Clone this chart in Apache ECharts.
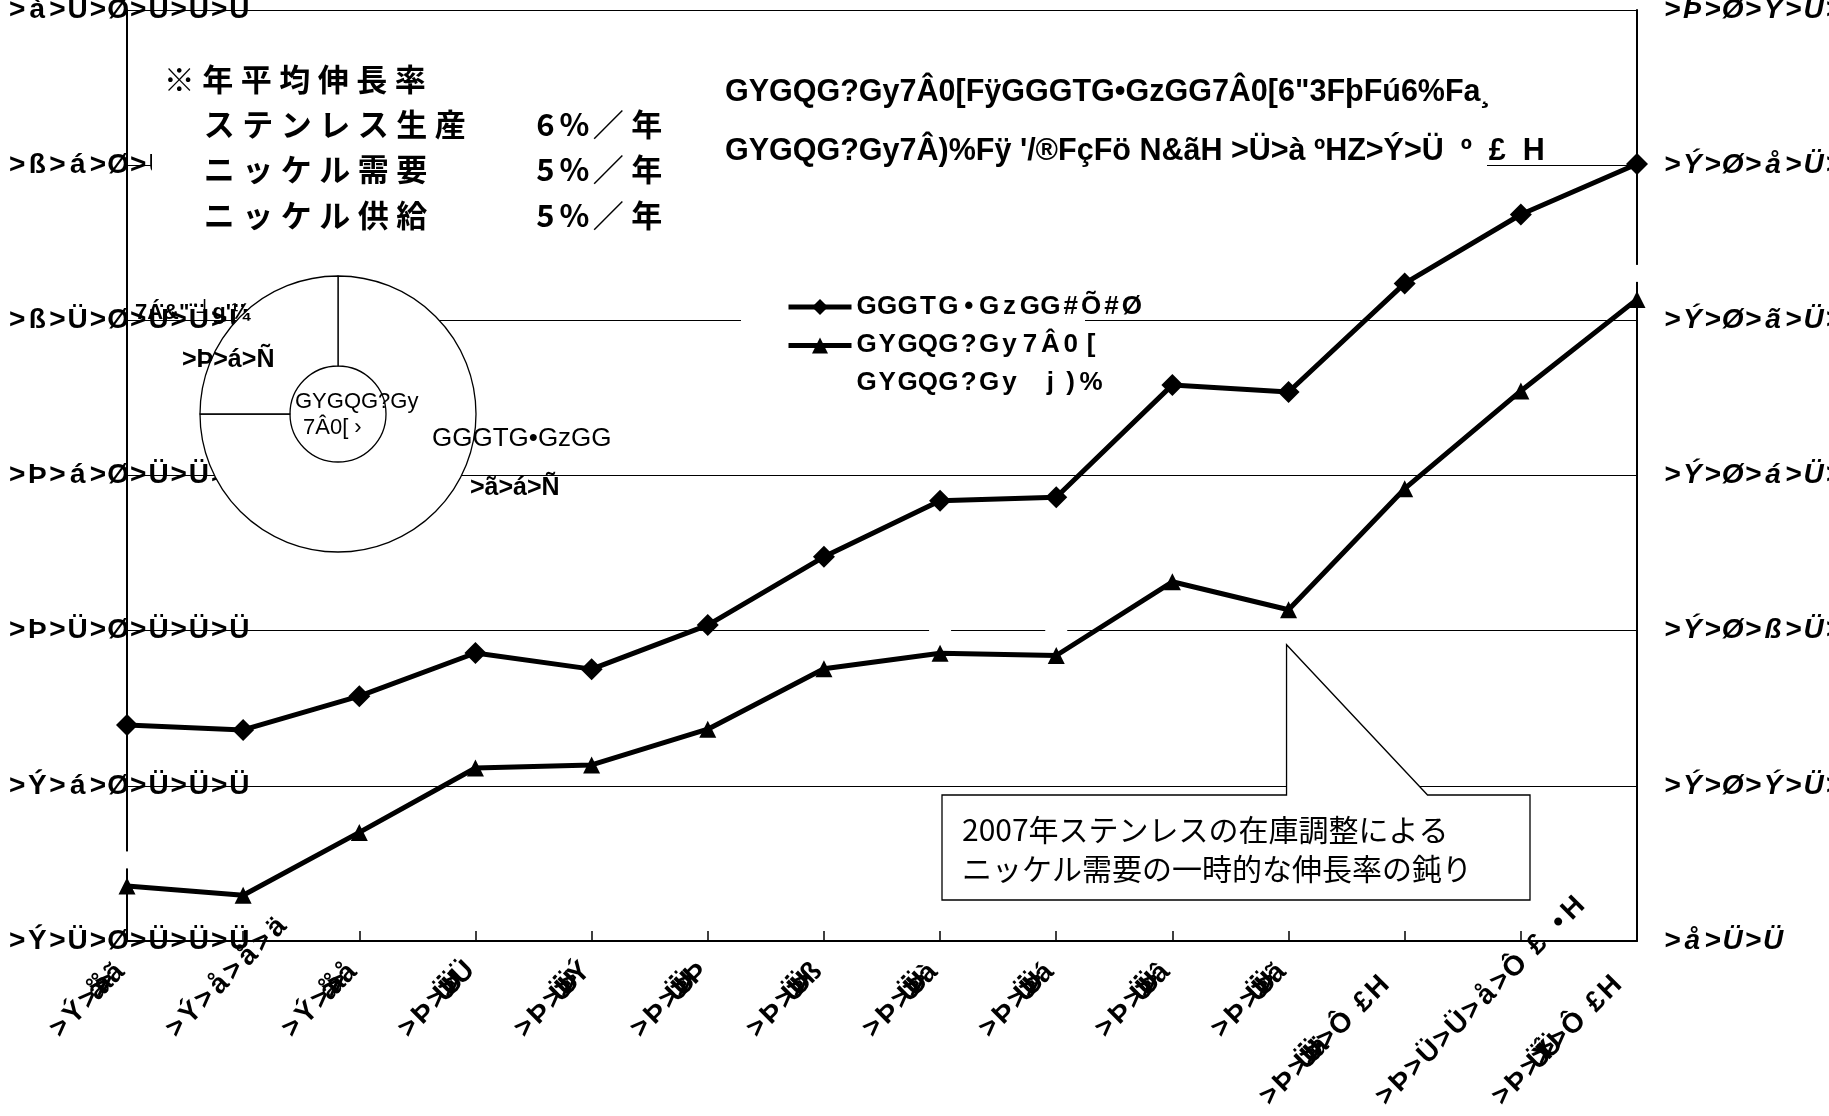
<!DOCTYPE html>
<html>
<head>
<meta charset="utf-8">
<script src="https://cdn.jsdelivr.net/npm/echarts@6/dist/echarts.min.js"></script>
<style>
  html, body { margin: 0; padding: 0; background: #fff; }
  #chart { width: 1829px; height: 1116px; }
</style>
</head>
<body>
<div id="chart"></div>
<script>
// ---- data ----
const categories = [
  '>Ý>å>å>ã', '>Ý>å>å>ä', '>Ý>å>å>å', '>Þ>Ü>Ü>Ü', '>Þ>Ü>Ü>Ý', '>Þ>Ü>Ü>Þ', '>Þ>Ü>Ü>ß',
  '>Þ>Ü>Ü>à', '>Þ>Ü>Ü>á', '>Þ>Ü>Ü>â', '>Þ>Ü>Ü>ã', '>Þ>Ü>Ü>ä>Ô £H', '>Þ>Ü>Ü>å>Ô £ •H', '>Þ>Ü>Ý>Ü>Ô £H'
];
// stainless output (left axis)
const stainlessOutput = [16960, 16800, 17890, 19280, 18760, 20180, 22380, 24190, 24300, 27920, 27690, 31190, 33410, 35040];
// nickel demand (right axis)
const nickelDemand = [971, 959, 1040, 1123, 1127, 1173, 1251, 1271, 1268, 1363, 1327, 1483, 1609, 1727];
const seriesNames = ['GGGTG•GzGG#Õ#Ø', 'GYGQG?Gy7Â0[\nGYGQG?Gy j)%'];
const leftAxisRange = [10000, 40000, 5000];
const rightAxisRange = [900, 2100, 200];

// demand share donut
const shareNames = ['GGGTG•GzGG', '7Á&"¨┘g\'¼'];
const shareValues = [75, 25];
const shareCentre = ['GYGQG?Gy', '7Â0[ ›'];

// growth-rate note
const growthTitle = '※年平均伸長率';
const growthItems = ['ステンレス生産', 'ニッケル需要', 'ニッケル供給'];
const growthRates = [6, 5, 5];

const headNotes = [
  'GYGQG?Gy7Â0[FÿGGGTG•GzGG7Â0[6"3FþFú6%Fa¸',
  'GYGQG?Gy7Â)%Fÿ \'/®FçFö N&ãH >Ü>à ºHZ>Ý>Ü  º  £  H'
];
const calloutLines = ['2007年ステンレスの在庫調整による', 'ニッケル需要の一時的な伸長率の鈍り'];
const calloutIndex = 10;

// ---- helpers ----
const LATIN = "'Liberation Sans', 'DejaVu Sans', sans-serif";
const CJK = "'Noto Sans CJK JP', sans-serif";

// digit glyphs as they come out of the source file's encoding
const glyphMap = { '0': 'Ü', '1': 'Ý', '2': 'Þ', '3': 'ß', '4': 'à', '5': 'á', '6': 'â', '7': 'ã', '8': 'ä', '9': 'å', ',': 'Ø', '%': 'Ñ' };
function garble(s) { return Array.from(s).map(ch => '>' + (glyphMap[ch] || ch)).join(''); }
function fmtNum(v) { return Math.round(v).toLocaleString('en-US'); }

// one rich token per character, so each glyph sits in a fixed cell
function cells(text, styleOf) {
  return Array.from(text).map((ch, i) => '{' + styleOf(ch, i) + '|' + ch + '}').join('');
}

const CELL = 20.2;
const TICK_FS = 28;
const tickCell = { fontFamily: LATIN, fontWeight: 'bold', fontSize: TICK_FS, color: '#000', width: CELL, align: 'center' };

// x tick labels: some glyph runs collapse onto each other
const squeezeRanges = [[3, 7], null, [3, 7], [3, 7], [3, 7], [3, 7], [3, 7], [3, 7], [3, 7], [3, 7], [3, 7], [3, 8], null, [3, 8]];
const xRich = {
  c: tickCell,
  q: Object.assign({}, tickCell, { width: 4 }),
  s: Object.assign({}, tickCell, { width: 11 })
};
function xStyle(idx) {
  const sq = squeezeRanges[idx];
  return (ch, i) => (sq && i >= sq[0] && i < sq[1]) ? 'q' : (ch === ' ' ? 's' : 'c');
}
categories.forEach((lab, idx) => {
  const st = xStyle(idx);
  let w = 0;
  Array.from(lab).forEach((ch, i) => { const k = st(ch, i); w += k === 'q' ? 4 : k === 's' ? 11 : CELL; });
  const span = idx >= 11 ? 400 : 208;
  xRich['p' + idx] = { fontSize: TICK_FS, width: Math.max(0, span - w) };
});

const legendCell = { fontFamily: LATIN, fontWeight: 'bold', fontSize: 26, color: '#000', width: 20.4, align: 'center' };

const chart = echarts.init(document.getElementById('chart'));

const option = {
  animation: false,
  backgroundColor: '#fff',
  grid: { left: 127, right: 192, top: 10, bottom: 175, outerBoundsMode: 'none', containLabel: false },
  legend: [
    {
      data: [seriesNames[0]], orient: 'vertical', left: 786, top: 294, padding: 0,
      itemWidth: 63, itemHeight: 20, selectedMode: false, lineStyle: { width: 5 },
      formatter: n => cells(n, () => 'a'),
      textStyle: { rich: { a: Object.assign({}, legendCell, { lineHeight: 26 }) } }
    },
    {
      data: [seriesNames[1]], orient: 'vertical', left: 786, top: 332, padding: 0,
      itemWidth: 63, itemHeight: 20, selectedMode: false, lineStyle: { width: 5 },
      formatter: n => n.split('\n').map((line, li) => cells(line, () => li === 0 ? 'b1' : 'b2')).join('\n'),
      textStyle: {
        rich: {
          b1: Object.assign({}, legendCell, { lineHeight: 74 }),
          b2: Object.assign({}, legendCell, { lineHeight: 1 })
        }
      }
    }
  ],
  xAxis: {
    type: 'category', data: categories, boundaryGap: false,
    axisLine: { lineStyle: { color: '#000', width: 2 } },
    axisTick: { show: true, inside: true, length: 10, lineStyle: { color: '#000', width: 1.5 } },
    axisLabel: {
      interval: 0, rotate: 45, align: 'center', verticalAlign: 'middle', margin: 20,
      formatter: (v, idx) => cells(v, xStyle(idx)) + '{p' + idx + '| }',
      rich: xRich
    },
    splitLine: { show: false }
  },
  yAxis: [
    {
      type: 'value', position: 'left',
      min: leftAxisRange[0], max: leftAxisRange[1], interval: leftAxisRange[2],
      axisLine: { show: true, lineStyle: { color: '#000', width: 2 } },
      axisTick: { show: false },
      splitLine: { show: true, lineStyle: { color: '#000', width: 1.2 } },
      axisLabel: {
        align: 'left', margin: 120,
        formatter: v => cells(garble(fmtNum(v)), () => 'c'),
        rich: { c: tickCell }
      }
    },
    {
      type: 'value', position: 'right',
      min: rightAxisRange[0], max: rightAxisRange[1], interval: rightAxisRange[2],
      axisLine: { show: true, lineStyle: { color: '#000', width: 2 } },
      axisTick: { show: false },
      splitLine: { show: false },
      axisLabel: {
        align: 'left', margin: 25,
        formatter: v => cells(garble(fmtNum(v)), () => 'c'),
        rich: { c: Object.assign({}, tickCell, { fontStyle: 'italic' }) }
      }
    }
  ],
  series: [
    {
      type: 'line', name: seriesNames[0], data: stainlessOutput, yAxisIndex: 0,
      symbol: 'diamond', symbolSize: 22,
      lineStyle: { color: '#000', width: 5 }, itemStyle: { color: '#000' }
    },
    {
      type: 'line', name: seriesNames[1], data: nickelDemand, yAxisIndex: 1,
      symbol: 'triangle', symbolSize: 17,
      lineStyle: { color: '#000', width: 5 }, itemStyle: { color: '#000' },
      label: {
        show: true, position: 'top', distance: 9, formatter: ' ',
        backgroundColor: '#fff', width: 22, height: 17, padding: 0
      }
    },
    {
      type: 'pie', center: [338, 414], radius: [48, 138], startAngle: 90, clockwise: true,
      silent: true, label: { show: false }, labelLine: { show: false },
      itemStyle: { color: '#fff', borderColor: '#000', borderWidth: 1.3 },
      data: shareNames.map((n, i) => ({ name: n, value: shareValues[i] })),
      z: 2
    }
  ]
};
chart.setOption(option);

// ---- annotations ----
const tip = chart.convertToPixel({ seriesIndex: 1 }, [calloutIndex, nickelDemand[calloutIndex]]);
const g = [];
function txt(x, y, text, style, z) {
  g.push({ type: 'text', x: x, y: y, z: z || 6, silent: true,
    style: Object.assign({ text: text, fill: '#000', align: 'left', verticalAlign: 'middle' }, style) });
}

// white backdrops of the note panels and legend
g.push({ type: 'rect', z: 3, silent: true, shape: { x: 152, y: 40, width: 568, height: 200 }, style: { fill: '#fff' } });
g.push({ type: 'rect', z: 3, silent: true, shape: { x: 720, y: 55, width: 767, height: 135 }, style: { fill: '#fff' } });
g.push({ type: 'rect', z: 3, silent: true, shape: { x: 741, y: 282, width: 344, height: 116 }, style: { fill: '#fff' } });

// growth-rate note
const jpRich = {
  j: { fontFamily: CJK, fontWeight: 'bold', fontSize: 31, width: 38.5, align: 'center', fill: '#000' },
  h: { fontFamily: CJK, fontWeight: 'bold', fontSize: 31, width: 29, align: 'center', fill: '#000' }
};
const jpStyle = ch => (ch.charCodeAt(0) < 128 ? 'h' : 'j');
txt(160, 79, cells(growthTitle, jpStyle), { rich: jpRich });
growthItems.forEach((item, i) => {
  const y = 124 + i * 45.5;
  txt(200, y, cells(item, jpStyle), { rich: jpRich });
  txt(531, y, cells(growthRates[i] + '%／年', jpStyle), { rich: jpRich });
});

// heading notes
headNotes.forEach((t, i) => txt(725, 93 + i * 59, t, { fontFamily: LATIN, fontWeight: 'bold', fontSize: 30.5 }));

// donut labels
txt(135, 313, shareNames[1], { fontFamily: LATIN, fontWeight: 'bold', fontSize: 22 });
txt(182, 360, garble(shareValues[1] + '%'), { fontFamily: LATIN, fontWeight: 'bold', fontSize: 25 });
txt(432, 439, shareNames[0], { fontFamily: LATIN, fontSize: 26 });
txt(470, 488, garble(shareValues[0] + '%'), { fontFamily: LATIN, fontWeight: 'bold', fontSize: 25 });
txt(295, 402, shareCentre[0], { fontFamily: LATIN, fontSize: 22 });
txt(303, 428, shareCentre[1], { fontFamily: LATIN, fontSize: 22 });

// callout box with its tail pointing at the 2007 demand point
const bx0 = 942, bx1 = 1530, by0 = 795, by1 = 900;
const tx = tip[0] - 2, ty = tip[1] + 35;
g.push({
  type: 'polygon', z: 3, silent: true,
  shape: { points: [[bx0, by0], [tx, by0], [tx, ty], [tx + 141, by0], [bx1, by0], [bx1, by1], [bx0, by1]] },
  style: { fill: '#fff', stroke: '#000', lineWidth: 1.3 }
});
calloutLines.forEach((t, i) => txt(962, 830 + i * 39, t, { fontFamily: CJK, fontSize: 30 }));

chart.setOption({ graphic: g });
</script>
</body>
</html>
